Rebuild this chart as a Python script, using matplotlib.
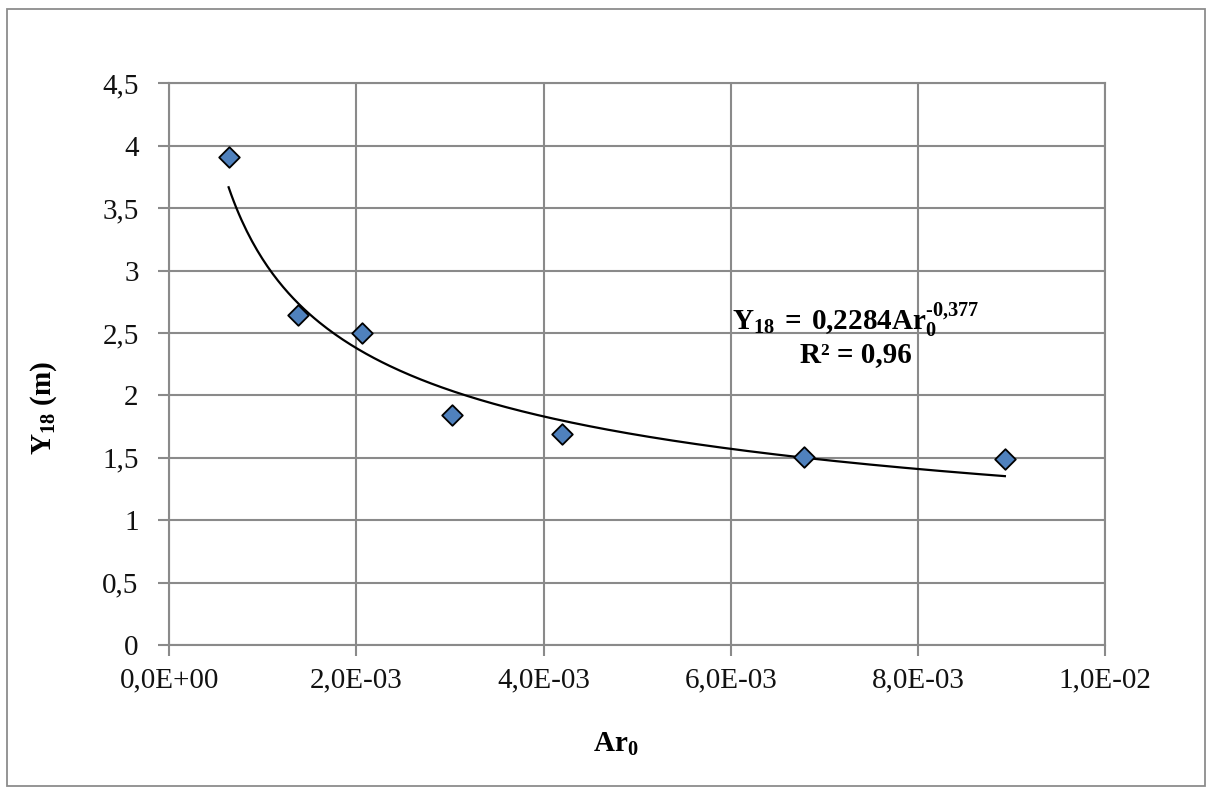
import numpy as np
import matplotlib
matplotlib.use("Agg")
import matplotlib.pyplot as plt
from matplotlib.patches import Rectangle
from matplotlib.ticker import FuncFormatter

plt.rcParams['font.family'] = ['Liberation Serif', 'DejaVu Serif']
plt.rcParams['mathtext.fontset'] = 'custom'
plt.rcParams['mathtext.rm'] = 'Liberation Serif'
plt.rcParams['mathtext.bf'] = 'Liberation Serif:bold'
plt.rcParams['mathtext.it'] = 'Liberation Serif:italic'

# Data
ar0 = [0.634e-3, 1.375e-3, 2.06e-3, 3.017e-3, 4.20e-3, 6.78e-3, 8.93e-3]
y18 = [3.91, 2.64, 2.50, 1.84, 1.69, 1.51, 1.49]
fit_coef = 0.2284
fit_exp = -0.377
x_ticks = [0.0, 2e-3, 4e-3, 6e-3, 8e-3, 1e-2]
x_tick_labels = ["0,0E+00", "2,0E-03", "4,0E-03", "6,0E-03", "8,0E-03", "1,0E-02"]
y_ticks = [0, 0.5, 1, 1.5, 2, 2.5, 3, 3.5, 4, 4.5]

W, H = 1212, 792
fig = plt.figure(figsize=(W / 100, H / 100), dpi=100)
fig.patch.set_facecolor('white')

# outer chart border
fig.patches.append(Rectangle((7 / W, 1 - 786 / H), (1205 - 7) / W, (786 - 9) / H,
                             transform=fig.transFigure, fill=False,
                             edgecolor='#8c8c8c', linewidth=1.3))

left, right, top, bottom = 169.3, 1105, 83.3, 645
ax = fig.add_axes([left / W, 1 - bottom / H, (right - left) / W, (bottom - top) / H])

grid_c = '#8a8a8a'
ax.set_xlim(0, 1e-2)
ax.set_ylim(0, 4.5)
ax.set_xticks(x_ticks)
ax.set_xticklabels(x_tick_labels)
ax.set_yticks(y_ticks)
ax.yaxis.set_major_formatter(FuncFormatter(lambda v, p: ('%g' % v).replace('.', ',')))
ax.grid(True, color=grid_c, linewidth=1.5)
ax.set_axisbelow(True)
for s in ax.spines.values():
    s.set_color(grid_c)
    s.set_linewidth(1.5)
ax.tick_params(axis='both', which='major', direction='out', length=8, width=1.5,
               color=grid_c, labelsize=21, labelcolor='#111111')
ax.tick_params(axis='y', pad=14)
ax.tick_params(axis='x', pad=8)

# trendline
xs = np.linspace(min(ar0), max(ar0), 300)
ax.plot(xs, fit_coef * xs ** fit_exp, color='black', linewidth=1.6, zorder=3)

# data points
ax.scatter(ar0, y18, marker='D', s=110, facecolor='#4f81bd', edgecolor='black',
           linewidth=1.3, zorder=4)

# equation
eq_x = (856 - left) / (right - left)
ax.text(eq_x, 1 - (330 - top) / (bottom - top),
        '$\\mathbf{Y_{18}\\;=\\;0{,}2284Ar_0^{\u2010 0{,}377}}$',
        transform=ax.transAxes, ha='center', va='baseline', fontsize=21, zorder=5)
ax.text(eq_x, 1 - (362 - top) / (bottom - top), 'R\u00b2 = 0,96',
        transform=ax.transAxes, ha='center', va='baseline', fontsize=21,
        fontweight='bold', zorder=5)

# axis titles
fig.text(616 / W, 1 - 752 / H, r'$\mathbf{Ar_0}$', ha='center', va='baseline', fontsize=21)
fig.text(44 / W, 1 - 408 / H, r'$\mathbf{Y_{18}\ (m)}$', ha='center', va='center',
         rotation=90, fontsize=21)

fig.savefig('out.png', dpi=100)
